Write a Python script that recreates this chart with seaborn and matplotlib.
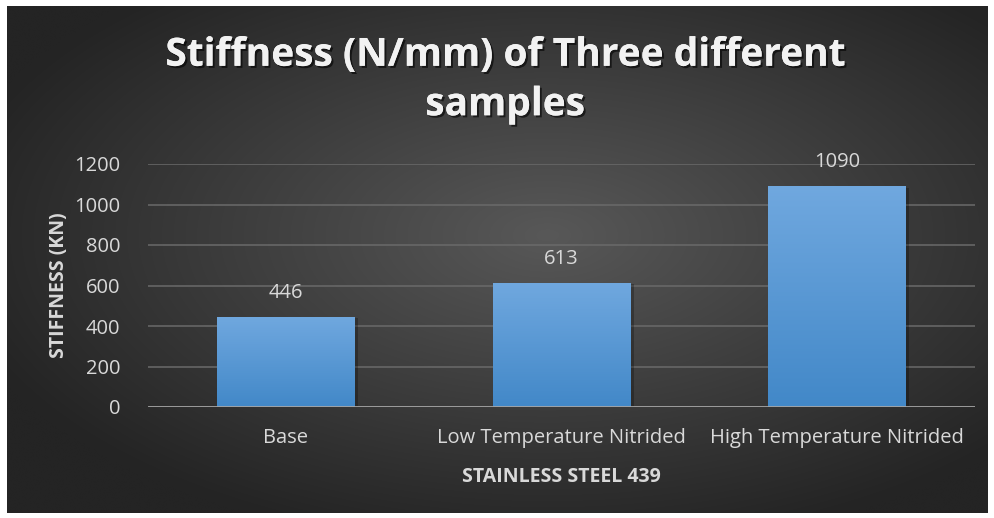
import numpy as np
import matplotlib
matplotlib.use("Agg")
import matplotlib.pyplot as plt
import matplotlib.patheffects as pe
from matplotlib.patches import Rectangle
import seaborn as sns
import pandas as pd

categories = ["Base", "Low Temperature Nitrided", "High Temperature Nitrided"]
values = [446, 613, 1090]
yticks = [0, 200, 400, 600, 800, 1000, 1200]

sns.set_theme(style="dark")
plt.rcParams['font.family'] = ['Open Sans', 'DejaVu Sans']

W, H = 994, 518
fig = plt.figure(figsize=(W/100, H/100), dpi=100, facecolor="white")

# background radial gradient
bg = fig.add_axes([0, 0, 1, 1], zorder=0)
bg.set_xlim(0, W); bg.set_ylim(H, 0); bg.axis("off")
yy, xx = np.mgrid[0:200, 0:400]
cx, cy = 220, 90
r = np.sqrt(((xx - cx)/400)**2 + ((yy - cy)/200)**2)
r = r / r.max()
c0, c1 = 0x58/255, 0x24/255
img = c0 + (c1 - c0) * np.clip(r*1.25, 0, 1)
bg.imshow(np.dstack([img, img, img]), extent=(7, 988, 513, 6), aspect="auto", interpolation="bicubic")

ax = fig.add_axes([148/W, 1-407/H, (975-148)/W, (407-164)/H], zorder=1)
ax.patch.set_alpha(0)
df = pd.DataFrame({"cat": categories, "val": values})
sns.barplot(data=df, x="cat", y="val", ax=ax, width=0.5, color="#5b9bd5", saturation=1,
            linewidth=0, edgecolor="none", zorder=3)

ax.set_ylim(0, 1200)
ax.set_xlim(-0.5, 2.5)
ax.set_yticks(yticks)
ax.set_yticklabels([str(t) for t in yticks])
for s in ax.spines.values():
    s.set_visible(False)
ax.grid(False)
for t in yticks[1:]:
    ax.axhline(t, color="#6a6a6a", lw=1.1, zorder=1)
ax.axhline(0, color="#a6a6a6", lw=2, zorder=4)
ax.tick_params(axis="both", length=0, colors="#d9d9d9", labelsize=14.5)
ax.tick_params(axis="y", pad=20)
ax.tick_params(axis="x", pad=15)

# gradient fill of bars + shadow
grad = np.linspace(0, 1, 256).reshape(-1, 1)
top = np.array([0x70, 0xa8, 0xdf]) / 255
bot = np.array([0x42, 0x88, 0xc8]) / 255
gimg = top * (1 - grad[..., None]) + bot * grad[..., None]
gimg = gimg.reshape(256, 1, 3)
for p, v in zip(ax.patches, values):
    x0, w, h = p.get_x(), p.get_width(), p.get_height()
    sh = Rectangle((x0 + 0.012, -8), w, h + 0, facecolor="black", alpha=0.25, zorder=2, lw=0)
    ax.add_patch(sh)
    im = ax.imshow(gimg, extent=(x0, x0 + w, 0, h), aspect="auto", zorder=3.5, interpolation="bilinear")
    im.set_clip_path(p)
    ax.text(x0 + w/2, h + 70, str(v), ha="center", va="bottom", color="#d9d9d9", fontsize=14.5, zorder=5)
ax.set_xlim(-0.5, 2.5)
ax.set_ylim(0, 1200)

ax.set_xlabel("STAINLESS STEEL 439", color="#d9d9d9", fontsize=14, fontweight="bold", labelpad=14)
ax.set_ylabel("STIFFNESS (KN)", color="#d9d9d9", fontsize=14, fontweight="bold", labelpad=4)

fig.text(505/W, 1-80/H, "Stiffness (N/mm) of Three different\nsamples", ha="center", va="center",
         color="#f2f2f2", fontsize=28, fontweight="bold", linespacing=1.35,
         path_effects=[pe.withSimplePatchShadow(offset=(1.5, -1.5), shadow_rgbFace="black", alpha=0.6), pe.Normal()])

fig.savefig("out.png", dpi=100, facecolor="white")
